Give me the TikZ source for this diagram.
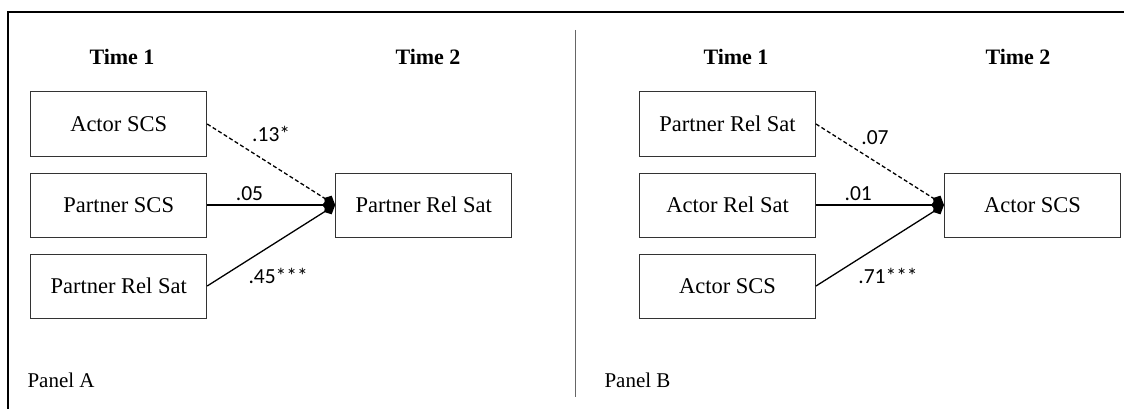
\documentclass[tikz,border=0pt]{standalone}
\usepackage{fontspec}
\setmainfont{Liberation Serif}
\newfontfamily\numfont{Carlito}
\usetikzlibrary{positioning,arrows.meta}

\begin{document}
\begin{tikzpicture}[x=1pt, y=-1pt, align=center,
    font=\fontsize{22.5}{26}\selectfont,
    var/.style={draw=black!80, line width=1pt, minimum width=176pt, minimum height=64pt, inner sep=0pt},
    link/.style={line width=1.3pt, -{Kite[length=13pt, width=12pt, inset=5pt]}},
    coef/.style={font=\numfont\fontsize{21.5}{25}\selectfont, inner sep=1pt},
    head/.style={font=\bfseries\fontsize{22}{26}\selectfont},
    panel/.style={anchor=west, font=\fontsize{21}{25}\selectfont}]
    \useasboundingbox (0,0) rectangle (1124,409);

    % frame and divider
    \draw[line width=2pt] (8,409) -- (8,12) -- (1124,12);
    \draw[black!60, line width=1pt] (575,30) -- (575,397);

    % Panel A
    \node [head] (timeA1) at (122,57) {Time 1};
    \node [head] (timeA2) at (428,57) {Time 2};

    \node [var] (a1) at (118.7,124) {Actor SCS};
    \node [var, below=16pt of a1] (a2) {Partner SCS};
    \node [var, below=16pt of a2] (a3) {Partner Rel Sat};
    \node [var, right=128pt of a2] (aout) {Partner Rel Sat};

    \draw[link, dash pattern=on 4pt off 2.5pt] (a1.east) -- node[coef, pos=0.5, above=21pt] {.13*} (aout.west);
    \draw[link] (a2.east) -- node[coef, pos=0.33, above=3pt] {.05} (aout.west);
    \draw[link] (a3.east) -- node[coef, pos=0.5, below=21pt, xshift=7pt] {.45***} (aout.west);

    \node [panel] (panelA) at (24,380) {Panel A};

    % Panel B
    \node [head] (timeB1) at (736,57) {Time 1};
    \node [head] (timeB2) at (1018,57) {Time 2};

    \node [var] (b1) at (727.5,124) {Partner Rel Sat};
    \node [var, below=16pt of b1] (b2) {Actor Rel Sat};
    \node [var, below=16pt of b2] (b3) {Actor SCS};
    \node [var, right=128pt of b2] (bout) {Actor SCS};

    \draw[link, dash pattern=on 4pt off 2.5pt] (b1.east) -- node[coef, pos=0.5, above=18pt, xshift=-5pt] {.07} (bout.west);
    \draw[link] (b2.east) -- node[coef, pos=0.33, above=3pt] {.01} (bout.west);
    \draw[link] (b3.east) -- node[coef, pos=0.5, below=21pt, xshift=8pt] {.71***} (bout.west);

    \node [panel] (panelB) at (601,380) {Panel B};
\end{tikzpicture}
\end{document}
